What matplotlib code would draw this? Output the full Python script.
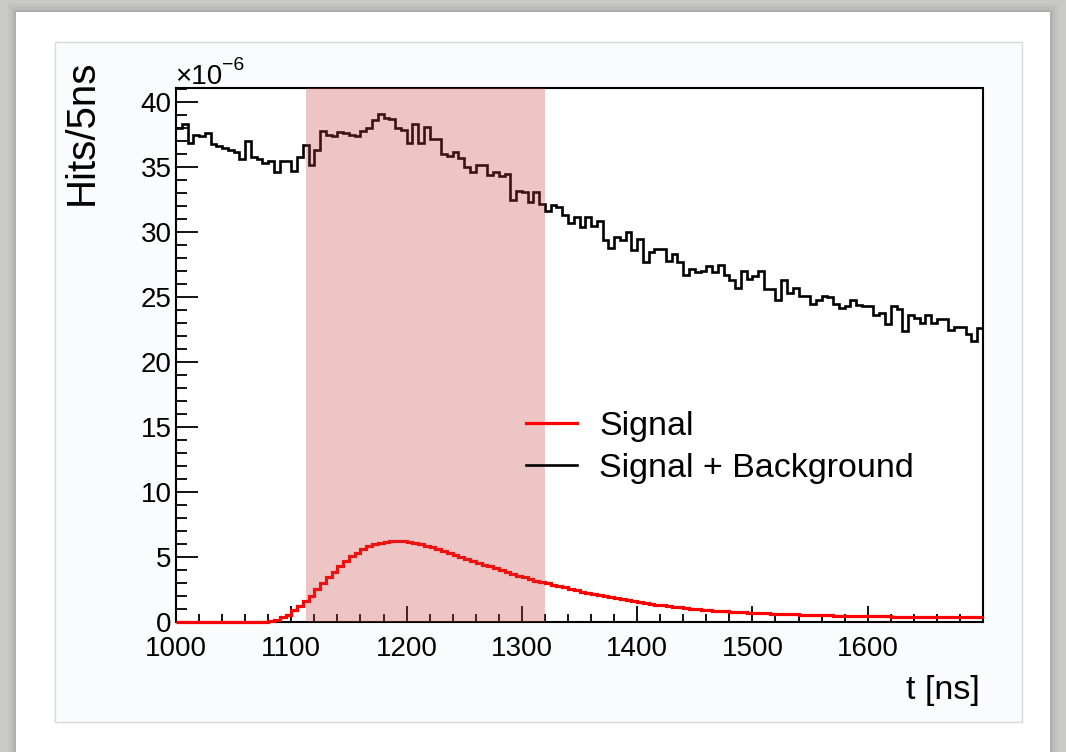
import numpy as np
import matplotlib.pyplot as plt
from matplotlib.patches import Rectangle
from matplotlib.ticker import MultipleLocator

plt.rcParams['font.family'] = ['Liberation Sans', 'DejaVu Sans']

# 5 ns bins from 1000 to 1700 ns
t_start, t_stop, t_bin = 1000, 1700, 5

# Hits/5ns, in units of 1e-6
sig_bkg = [
    38.0, 38.3, 36.9, 37.5, 37.4, 37.6, 36.8, 36.6, 36.45, 36.3,
    36.2, 35.6, 37.0, 35.8, 35.6, 35.3, 35.5, 34.6, 35.5, 35.5,
    34.7, 35.8, 36.7, 35.2, 36.3, 37.8, 37.5, 37.4, 37.7, 37.6,
    37.5, 37.4, 37.8, 38.0, 38.6, 39.1, 38.8, 38.7, 38.0, 37.9,
    36.9, 38.3, 36.9, 38.1, 37.2, 37.2, 36.05, 35.9, 36.2, 35.7,
    35.0, 34.6, 35.2, 35.2, 34.4, 34.6, 34.3, 34.5, 32.5, 33.2,
    33.1, 32.3, 33.1, 32.2, 31.6, 32.1, 31.95, 31.3, 30.7, 31.2,
    30.4, 31.2, 30.5, 30.9, 29.4, 28.8, 29.6, 29.4, 30.0, 28.6,
    29.5, 27.7, 28.5, 28.7, 28.7, 27.8, 28.3, 27.7, 26.7, 27.2,
    26.9, 27.0, 27.4, 26.9, 27.5, 26.7, 26.3, 25.7, 27.0, 26.4,
    26.6, 27.0, 25.6, 25.6, 24.8, 26.3, 25.3, 25.7, 25.1, 25.1,
    24.5, 24.8, 25.1, 25.0, 24.5, 24.2, 24.3, 24.8, 24.4, 24.3,
    24.3, 23.6, 23.8, 22.9, 24.3, 24.1, 22.4, 23.6, 23.4, 23.0,
    23.6, 23.0, 23.3, 23.3, 22.5, 22.7, 22.7, 22.2, 21.6, 22.6,
]

signal = [
    0, 0, 0, 0, 0, 0, 0, 0, 0, 0,
    0, 0, 0, 0, 0, 0, 0.05, 0.15, 0.36, 0.54,
    0.92, 1.23, 1.64, 2.03, 2.51, 2.97, 3.44, 3.87, 4.31, 4.69,
    5.08, 5.33, 5.59, 5.85, 6.0, 6.1, 6.17, 6.22, 6.24, 6.22,
    6.17, 6.1, 6.0, 5.88, 5.75, 5.61, 5.47, 5.32, 5.17, 5.02,
    4.87, 4.72, 4.56, 4.41, 4.28, 4.13, 3.97, 3.85, 3.69, 3.56,
    3.44, 3.31, 3.18, 3.08, 2.97, 2.87, 2.77, 2.67, 2.56, 2.46,
    2.34, 2.25, 2.16, 2.07, 1.98, 1.90, 1.82, 1.74, 1.67, 1.60,
    1.53, 1.46, 1.40, 1.34, 1.28, 1.22, 1.17, 1.12, 1.07, 1.03,
    0.99, 0.95, 0.91, 0.88, 0.85, 0.82, 0.79, 0.76, 0.74, 0.72,
    0.70, 0.68, 0.66, 0.64, 0.63, 0.61, 0.60, 0.58, 0.57, 0.56,
    0.54, 0.53, 0.52, 0.51, 0.50, 0.49, 0.48, 0.47, 0.47, 0.46,
    0.45, 0.44, 0.44, 0.43, 0.42, 0.42, 0.41, 0.41, 0.40, 0.40,
    0.39, 0.39, 0.38, 0.38, 0.38, 0.37, 0.37, 0.37, 0.36, 0.36,
]

window = (1113, 1320)   # shaded time window [ns]
y_max = 41.1

W, H = 1066, 752
fig = plt.figure(figsize=(W / 100, H / 100), dpi=100)
fig.patch.set_facecolor('#c9c9c5')


def box(x0, y0, x1, y1):
    # pixel box (top-left origin) -> figure fraction rect
    return (x0 / W, 1 - y1 / H, (x1 - x0) / W, (y1 - y0) / H)


# card with a soft shadow, then the canvas panel (all behind the axes)
for grow, a in [(8, 0.05), (5, 0.08), (2, 0.12)]:
    x, y, w, h = box(16 - grow, 12 - grow, 1050 + grow, 760)
    fig.patches.append(Rectangle((x, y), w, h, transform=fig.transFigure,
                                 facecolor='#555555', alpha=a, lw=0, zorder=-5))
x, y, w, h = box(16, 12, 1050, 760)
fig.patches.append(Rectangle((x, y), w, h, transform=fig.transFigure,
                             facecolor='white', lw=0, zorder=-4))
x, y, w, h = box(55, 42, 1022, 722)
fig.patches.append(Rectangle((x, y), w, h, transform=fig.transFigure,
                             facecolor='#f8fcfc', edgecolor='#d6dada', lw=1, zorder=-3))

ax = fig.add_axes(box(176, 88, 983, 622))
ax.set_zorder(1)
ax.set_facecolor('white')

edges = np.arange(t_start, t_stop + t_bin, t_bin)
h_tot = ax.stairs(sig_bkg, edges, baseline=None, color='black', lw=1.9,
                  label='Signal + Background', zorder=3)
h_sig = ax.stairs(signal, edges, baseline=None, color='red', lw=2.3,
                  label='Signal', zorder=3.5, clip_on=False)
ax.axvspan(window[0], window[1], color=(0.78, 0.26, 0.26), alpha=0.3, lw=0, zorder=4)

ax.set_xlim(t_start, t_stop)
ax.set_ylim(0, y_max)
ax.xaxis.set_major_locator(plt.FixedLocator(np.arange(1000, 1700, 100)))
ax.xaxis.set_minor_locator(MultipleLocator(20))
ax.yaxis.set_major_locator(MultipleLocator(5))
ax.yaxis.set_minor_locator(MultipleLocator(1))

ax.tick_params(which='both', direction='in', top=False, right=False,
               width=1.3, labelsize=20, colors='black')
ax.tick_params(axis='y', which='major', length=16, pad=3)
ax.tick_params(axis='y', which='minor', length=8)
ax.tick_params(axis='x', which='major', length=11.5, pad=10)
ax.tick_params(axis='x', which='minor', length=6)
for s in ax.spines.values():
    s.set_linewidth(1.5)

fig.text(82 / W, 1 - 132 / H, 'Hits/5ns', rotation=90, ha='center', va='center',
         fontsize=29)
fig.text(943 / W, 1 - 690 / H, 't [ns]', ha='center', va='center', fontsize=24.5)
fig.text(175 / W, 1 - 84 / H, '×10', ha='left', va='baseline', fontsize=20)
fig.text(222 / W, 1 - 70 / H, '−6', ha='left', va='baseline', fontsize=14)

ax.legend(handles=[h_sig, h_tot], loc='center left', bbox_to_anchor=(0.434, 0.327),
          frameon=False, fontsize=24.5, handlelength=1.5, handletextpad=0.65,
          labelspacing=0.33, borderpad=0, borderaxespad=0)

fig.savefig('out.png', dpi=100, facecolor=fig.get_facecolor())
